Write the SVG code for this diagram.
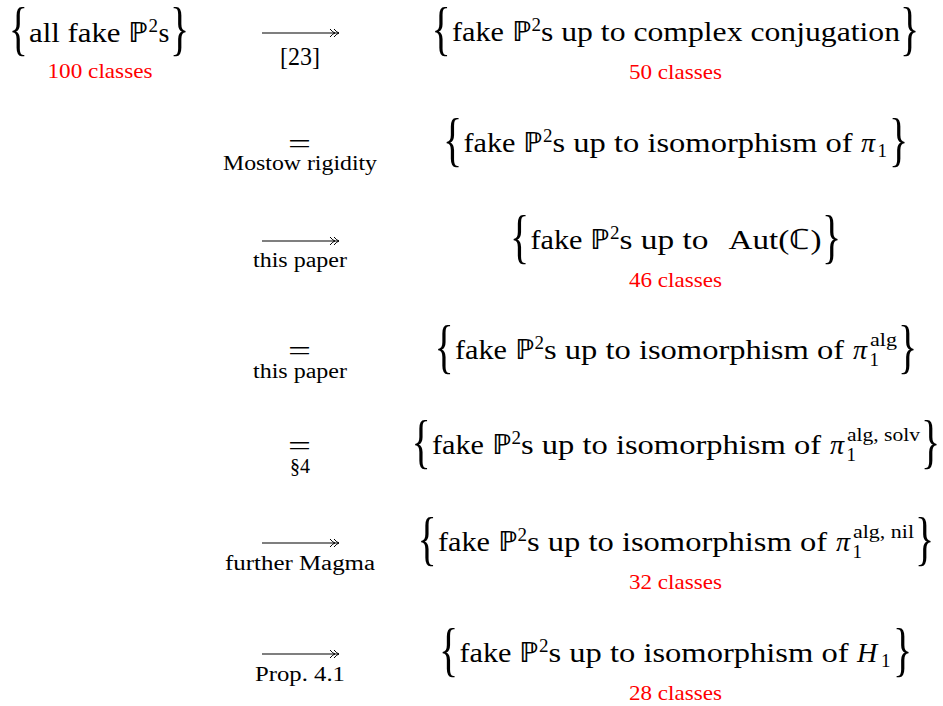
<svg xmlns="http://www.w3.org/2000/svg" width="943" height="706" viewBox="0 0 943 706" font-family="Liberation Serif">
<style>
.m{font-size:28px}
.s{font-size:19px}
.l{font-size:20px}
.r{font-size:21px;fill:#ff0000}
.b{font-size:40px}
.it{font-style:italic}
.ar{fill:none;stroke:#000;stroke-width:1.1}
</style>
<defs>
<marker id="th" markerWidth="12" markerHeight="10" refX="10" refY="5" orient="auto" markerUnits="userSpaceOnUse">
<path d="M1,1 Q4,4.6 6,5 Q4,5.4 1,9 M5,1 Q8,4.6 10,5 Q8,5.4 5,9" fill="none" stroke="#000" stroke-width="1"/>
</marker>
</defs>
<rect width="943" height="706" fill="#fff"/>

<g id="n-all" font-family="Liberation Serif">
<text class="b" transform="translate(8.7,48) scale(1,1.5)">{</text>
<text class="m" x="29" y="42" textLength="119" lengthAdjust="spacingAndGlyphs">all fake ℙ</text>
<text class="s" x="148.5" y="31.5">2</text>
<text class="m" x="158.5" y="42">s</text>
<text class="b" transform="translate(170,48) scale(1,1.5)">}</text>
<text class="r" x="47.5" y="78" textLength="105" lengthAdjust="spacingAndGlyphs">100 classes</text>
</g>

<g id="n-conj" font-family="Liberation Serif">
<text class="b" transform="translate(431.5,48) scale(1,1.5)">{</text>
<text class="m" x="452" y="41" textLength="79" lengthAdjust="spacingAndGlyphs">fake ℙ</text>
<text class="s" x="531.5" y="30.5">2</text>
<text class="m" x="541" y="41" textLength="359" lengthAdjust="spacingAndGlyphs">s up to complex conjugation</text>
<text class="b" transform="translate(900,48) scale(1,1.5)">}</text>
<text class="r" x="629" y="79" textLength="93" lengthAdjust="spacingAndGlyphs">50 classes</text>
</g>

<g id="n-pi1" font-family="Liberation Serif">
<text class="b" transform="translate(443,159) scale(1,1.5)">{</text>
<text class="m" x="463.5" y="152" textLength="79" lengthAdjust="spacingAndGlyphs">fake ℙ</text>
<text class="s" x="543" y="141.5">2</text>
<text class="m" x="552.5" y="152" textLength="300" lengthAdjust="spacingAndGlyphs">s up to isomorphism of</text>
<text class="m it" x="861" y="152">π</text>
<text class="s" x="877.5" y="157">1</text>
<text class="b" transform="translate(889,159) scale(1,1.5)">}</text>
</g>

<g id="n-aut" font-family="Liberation Serif">
<text class="b" transform="translate(510,256) scale(1,1.5)">{</text>
<text class="m" x="530.5" y="249" textLength="79" lengthAdjust="spacingAndGlyphs">fake ℙ</text>
<text class="s" x="610" y="238.5">2</text>
<text class="m" x="619.5" y="249" textLength="89" lengthAdjust="spacingAndGlyphs">s up to</text>
<text class="m" x="728.5" y="249" textLength="93" lengthAdjust="spacingAndGlyphs">Aut(ℂ)</text>
<text class="b" transform="translate(822,256) scale(1,1.5)">}</text>
<text class="r" x="629" y="287" textLength="93" lengthAdjust="spacingAndGlyphs">46 classes</text>
</g>

<g id="n-alg" font-family="Liberation Serif">
<text class="b" transform="translate(434.5,366) scale(1,1.5)">{</text>
<text class="m" x="455" y="359" textLength="79" lengthAdjust="spacingAndGlyphs">fake ℙ</text>
<text class="s" x="534.5" y="348.5">2</text>
<text class="m" x="544" y="359" textLength="300" lengthAdjust="spacingAndGlyphs">s up to isomorphism of</text>
<text class="m it" x="853" y="359">π</text>
<text class="s" x="869.5" y="366">1</text>
<text class="s" x="870" y="346" textLength="27" lengthAdjust="spacingAndGlyphs">alg</text>
<text class="b" transform="translate(898,366) scale(1,1.5)">}</text>
</g>

<g id="n-solv" font-family="Liberation Serif">
<text class="b" transform="translate(411.5,461) scale(1,1.5)">{</text>
<text class="m" x="432" y="454" textLength="79" lengthAdjust="spacingAndGlyphs">fake ℙ</text>
<text class="s" x="511.5" y="443.5">2</text>
<text class="m" x="521" y="454" textLength="300" lengthAdjust="spacingAndGlyphs">s up to isomorphism of</text>
<text class="m it" x="830" y="454">π</text>
<text class="s" x="846.5" y="461">1</text>
<text class="s" x="847" y="441" textLength="73" lengthAdjust="spacingAndGlyphs">alg, solv</text>
<text class="b" transform="translate(921,461) scale(1,1.5)">}</text>
</g>

<g id="n-nil" font-family="Liberation Serif">
<text class="b" transform="translate(417.5,558) scale(1,1.5)">{</text>
<text class="m" x="438" y="551" textLength="79" lengthAdjust="spacingAndGlyphs">fake ℙ</text>
<text class="s" x="517.5" y="540.5">2</text>
<text class="m" x="527" y="551" textLength="300" lengthAdjust="spacingAndGlyphs">s up to isomorphism of</text>
<text class="m it" x="836" y="551">π</text>
<text class="s" x="852.5" y="558">1</text>
<text class="s" x="853" y="538" textLength="61" lengthAdjust="spacingAndGlyphs">alg, nil</text>
<text class="b" transform="translate(915,558) scale(1,1.5)">}</text>
<text class="r" x="629" y="589" textLength="93" lengthAdjust="spacingAndGlyphs">32 classes</text>
</g>

<g id="n-h1" font-family="Liberation Serif">
<text class="b" transform="translate(439,669) scale(1,1.5)">{</text>
<text class="m" x="459.5" y="662" textLength="79" lengthAdjust="spacingAndGlyphs">fake ℙ</text>
<text class="s" x="539" y="651.5">2</text>
<text class="m" x="548.5" y="662" textLength="300" lengthAdjust="spacingAndGlyphs">s up to isomorphism of</text>
<text class="m it" x="857" y="662">H</text>
<text class="s" x="881" y="667">1</text>
<text class="b" transform="translate(893,669) scale(1,1.5)">}</text>
<text class="r" x="629" y="700" textLength="93" lengthAdjust="spacingAndGlyphs">28 classes</text>
</g>

<g id="connectors" font-family="Liberation Serif">
<path class="ar" d="M262,33 H339" marker-end="url(#th)"/>
<text font-size="26" x="280" y="65" textLength="40" lengthAdjust="spacingAndGlyphs">[23]</text>

<text class="m" x="288" y="153" textLength="23" lengthAdjust="spacingAndGlyphs">=</text>
<text class="l" x="223" y="170" textLength="154" lengthAdjust="spacingAndGlyphs">Mostow rigidity</text>

<path class="ar" d="M262,241 H339" marker-end="url(#th)"/>
<text class="l" x="253" y="267" textLength="94" lengthAdjust="spacingAndGlyphs">this paper</text>

<text class="m" x="288" y="360" textLength="23" lengthAdjust="spacingAndGlyphs">=</text>
<text class="l" x="253" y="378" textLength="94" lengthAdjust="spacingAndGlyphs">this paper</text>

<text class="m" x="288" y="455" textLength="23" lengthAdjust="spacingAndGlyphs">=</text>
<text class="l" x="290" y="473" textLength="20" lengthAdjust="spacingAndGlyphs">§4</text>

<path class="ar" d="M262,543 H339" marker-end="url(#th)"/>
<text class="l" x="225" y="570" textLength="150" lengthAdjust="spacingAndGlyphs">further Magma</text>

<path class="ar" d="M262,654 H339" marker-end="url(#th)"/>
<text class="l" x="255" y="681" textLength="90" lengthAdjust="spacingAndGlyphs">Prop. 4.1</text>
</g>
</svg>
